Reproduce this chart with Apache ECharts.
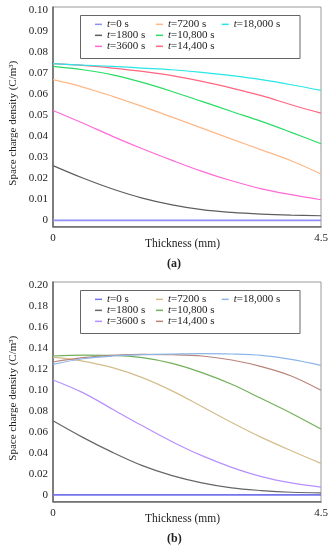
<!DOCTYPE html>
<html>
<head>
<meta charset="utf-8">
<script src="https://cdn.jsdelivr.net/npm/echarts@6/dist/echarts.min.js"></script>
<style>
  html, body { margin: 0; padding: 0; background: #fff; }
  #ca, #cb { width: 333px; height: 275px; }
</style>
</head>
<body>
<div id="ca"></div>
<div id="cb"></div>
<script>
// ---- data ----
const thickness = [0, 0.5, 1, 1.5, 2, 2.5, 3, 3.5, 4, 4.5];
const seriesNames = ['t=0 s', 't=1800 s', 't=3600 s', 't=7200 s', 't=10,800 s', 't=14,400 s', 't=18,000 s'];

// (a)
const a_t0     = [0, 0, 0, 0, 0, 0, 0, 0, 0, 0];
const a_t1800  = [0.0260, 0.0201, 0.0149, 0.0106, 0.0074, 0.0051, 0.0038, 0.0030, 0.0025, 0.0022];
const a_t3600  = [0.0522, 0.0462, 0.0399, 0.0340, 0.0285, 0.0233, 0.0188, 0.0150, 0.0122, 0.0098];
const a_t7200  = [0.0668, 0.0633, 0.0589, 0.0541, 0.0490, 0.0438, 0.0386, 0.0335, 0.0283, 0.0220];
const a_t10800 = [0.0731, 0.0715, 0.0691, 0.0655, 0.0612, 0.0565, 0.0517, 0.0470, 0.0418, 0.0364];
const a_t14400 = [0.0744, 0.0736, 0.0723, 0.0707, 0.0687, 0.0660, 0.0628, 0.0592, 0.0549, 0.0509];
const a_t18000 = [0.0744, 0.0737, 0.0731, 0.0723, 0.0715, 0.0703, 0.0687, 0.0668, 0.0644, 0.0617];
const a_yTicks = [0, 0.01, 0.02, 0.03, 0.04, 0.05, 0.06, 0.07, 0.08, 0.09, 0.10];

// (b)
const b_t0     = [0, 0, 0, 0, 0, 0, 0, 0, 0, 0];
const b_t1800  = [0.0705, 0.0547, 0.0404, 0.0278, 0.0183, 0.0114, 0.0066, 0.0041, 0.0025, 0.0019];
const b_t3600  = [0.1093, 0.0973, 0.0815, 0.0657, 0.0506, 0.0373, 0.0262, 0.0174, 0.0114, 0.0073];
const b_t7200  = [0.1311, 0.1273, 0.1210, 0.1115, 0.0989, 0.0840, 0.0689, 0.0547, 0.0420, 0.0300];
const b_t10800 = [0.1321, 0.1330, 0.1327, 0.1305, 0.1251, 0.1163, 0.1052, 0.0916, 0.0777, 0.0626];
const b_t14400 = [0.1264, 0.1305, 0.1327, 0.1336, 0.1333, 0.1321, 0.1283, 0.1220, 0.1131, 0.0995];
const b_t18000 = [0.1242, 0.1295, 0.1321, 0.1333, 0.1340, 0.1343, 0.1340, 0.1327, 0.1289, 0.1232];
const b_yTicks = [0, 0.02, 0.04, 0.06, 0.08, 0.10, 0.12, 0.14, 0.16, 0.18, 0.20];

const xTicks = [0, 4.5];

const colorsA = ['#8f8ff5', '#5e5e5e', '#ff6ad8', '#ffb888', '#28dc64', '#ff6682', '#28e6e6'];
const colorsB = ['#7474ec', '#666666', '#b690ff', '#d4bd8c', '#72b05a', '#b8857a', '#8cb6ea'];

const FONT = 'Liberation Serif';

function build(el, valuesList, colors, yTicks, yMin, yMax, caption) {
  const chart = echarts.init(el, null, { renderer: 'canvas' });
  const series = valuesList.map((vals, i) => ({
    name: seriesNames[i],
    type: 'line',
    smooth: 0.35,
    showSymbol: false,
    symbol: 'none',
    silent: true,
    lineStyle: { color: colors[i], width: i === 0 ? 1.6 : 1.2 },
    itemStyle: { color: colors[i] },
    data: thickness.map((x, k) => [x, vals[k]])
  }));
  const legendCols = [[0, 1, 2, 95], [3, 4, 5, 156], [6, null, null, 221.7]];
  const legends = legendCols.map(col => ({
    orient: 'vertical',
    left: col[3],
    top: 18.85,
    padding: 0,
    itemGap: 0,
    itemWidth: 7,
    itemHeight: 1.5,
    icon: 'rect',
    selectedMode: false,
    data: col.slice(0, 3).filter(v => v !== null).map(i => seriesNames[i]),
    formatter: n => '{i|t}' + n.slice(1),
    textStyle: {
      fontFamily: FONT, fontSize: 11, color: '#222', lineHeight: 10.3,
      rich: { i: { fontFamily: FONT, fontSize: 11, fontStyle: 'italic', color: '#222', lineHeight: 10.3 } }
    }
  }));
  chart.setOption({
    animation: false,
    backgroundColor: '#fff',
    title: {
      text: caption, left: 167, top: 258,
      padding: 0,
      textStyle: { fontFamily: FONT, fontSize: 12, fontWeight: 'bold', color: '#222' }
    },
    legend: legends,
    graphic: [{
      type: 'rect', left: 78, top: 13, z: 100,
      shape: { width: 219.5, height: 43 },
      style: { fill: 'none', stroke: '#666', lineWidth: 1 }
    }],
    grid: {
      left: 50, top: 7, width: 271, height: 219.5,
      show: true, borderColor: '#9a9a9a', borderWidth: 1
    },
    xAxis: {
      type: 'value', min: 0, max: 4.5,
      name: 'Thickness (mm)', nameLocation: 'middle', nameGap: 11,
      nameMoveOverlap: false,
      nameTextStyle: { fontFamily: FONT, fontSize: 11.5, color: '#222', padding: [0, 9, 0, 0] },
      axisLine: { show: true, onZero: false, lineStyle: { color: '#6a6a6a', width: 1.6 } },
      axisTick: { show: false },
      splitLine: { show: false },
      axisLabel: {
        customValues: xTicks, margin: 6, fontFamily: FONT, fontSize: 11, color: '#222',
        formatter: v => String(v)
      }
    },
    yAxis: {
      type: 'value', min: yMin, max: yMax,
      name: 'Space charge density (C/m³)', nameLocation: 'middle', nameGap: 34,
      nameRotate: 90, nameMoveOverlap: false,
      nameTextStyle: { fontFamily: FONT, fontSize: 11, color: '#222', padding: [0, 13, 0, 0] },
      axisLine: { show: true, onZero: false, lineStyle: { color: '#6a6a6a', width: 1.6 } },
      axisTick: { show: false },
      splitLine: { show: false },
      axisLabel: {
        customValues: yTicks, margin: 5, fontFamily: FONT, fontSize: 11, color: '#222',
        formatter: v => (Math.abs(v) < 1e-9 ? '0' : v.toFixed(2))
      }
    },
    series: series
  });
  return chart;
}

build(document.getElementById('ca'),
  [a_t0, a_t1800, a_t3600, a_t7200, a_t10800, a_t14400, a_t18000],
  colorsA, a_yTicks, -0.0029, 0.1013, '(a)');
build(document.getElementById('cb'),
  [b_t0, b_t1800, b_t3600, b_t7200, b_t10800, b_t14400, b_t18000],
  colorsB, b_yTicks, -0.0063, 0.2025, '(b)');
</script>
</body>
</html>
